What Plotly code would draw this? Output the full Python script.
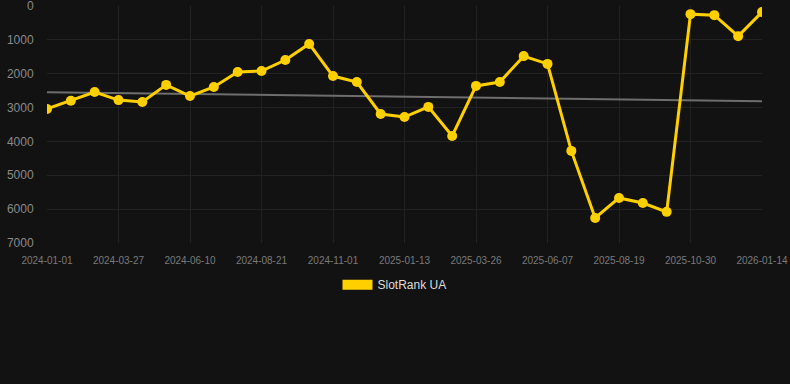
import numpy as np
import plotly.graph_objects as go

dates = ["2024-01-01", "2024-01-30", "2024-02-28", "2024-03-27", "2024-04-21", "2024-05-16",
         "2024-06-10", "2024-07-04", "2024-07-28", "2024-08-21", "2024-09-14", "2024-10-08",
         "2024-11-01", "2024-11-25", "2024-12-19", "2025-01-13", "2025-02-06", "2025-03-02",
         "2025-03-26", "2025-04-19", "2025-05-14", "2025-06-07", "2025-07-01", "2025-07-26",
         "2025-08-19", "2025-09-12", "2025-10-06", "2025-10-30", "2025-11-24", "2025-12-19",
         "2026-01-14"]
rank_ua = [3040, 2800, 2540, 2780, 2835, 2330, 2660, 2390, 1950, 1920, 1595, 1120,
           2070, 2245, 3190, 3280, 2980, 3840, 2360, 2245, 1480, 1710, 4280, 6260,
           5670, 5820, 6080, 240, 270, 890, 180]
tick_labels = dates[::3]
y_ticks = [0, 1000, 2000, 3000, 4000, 5000, 6000, 7000]

idx = np.arange(len(rank_ua))
slope, intercept = np.polyfit(idx, rank_ua, 1)
trend = slope * idx + intercept

YELLOW = "#FFD000"

fig = go.Figure()
fig.add_trace(go.Scatter(x=dates, y=trend, mode="lines",
                         line=dict(color="#6e6e6e", width=2),
                         showlegend=False, hoverinfo="skip"))
fig.add_trace(go.Scatter(x=dates, y=rank_ua, mode="lines+markers",
                         line=dict(color=YELLOW, width=3),
                         marker=dict(color=YELLOW, size=10),
                         showlegend=False, name="SlotRank UA"))
fig.add_trace(go.Scatter(x=[None], y=[None], mode="lines",
                         line=dict(color=YELLOW, width=11),
                         name="SlotRank UA", showlegend=True))

fig.update_layout(
    width=790, height=384,
    paper_bgcolor="#121212", plot_bgcolor="#121212",
    margin=dict(l=47, r=28, t=6, b=141),
    font=dict(family="Liberation Sans, Arial, sans-serif"),
    xaxis=dict(type="category", range=[0, len(dates) - 1],
               tickmode="array", tickvals=tick_labels, ticktext=tick_labels,
               tickfont=dict(size=10, color="#7a7a7a"),
               showgrid=True, gridcolor="#222222", gridwidth=1,
               zeroline=False, showline=False, automargin=False,
               ticks="outside", ticklen=8, tickcolor="rgba(0,0,0,0)",
               ticklabeloverflow="allow"),
    yaxis=dict(range=[7000, 0], tickvals=y_ticks,
               tickfont=dict(size=12, color="#8a8a8a"),
               showgrid=True, gridcolor="#222222", gridwidth=1,
               zeroline=False, showline=False, automargin=False,
               ticks="outside", ticklen=10, tickcolor="rgba(0,0,0,0)",
               ticklabeloverflow="allow"),
    legend=dict(orientation="h", x=0.486, xanchor="center", y=-0.115, yanchor="top",
                font=dict(size=12, color="#dddddd"), bgcolor="rgba(0,0,0,0)"),
)

fig.write_html("out.html", config={"displayModeBar": False},
               post_script="document.body.style.margin='0';document.body.style.background='#121212';")
